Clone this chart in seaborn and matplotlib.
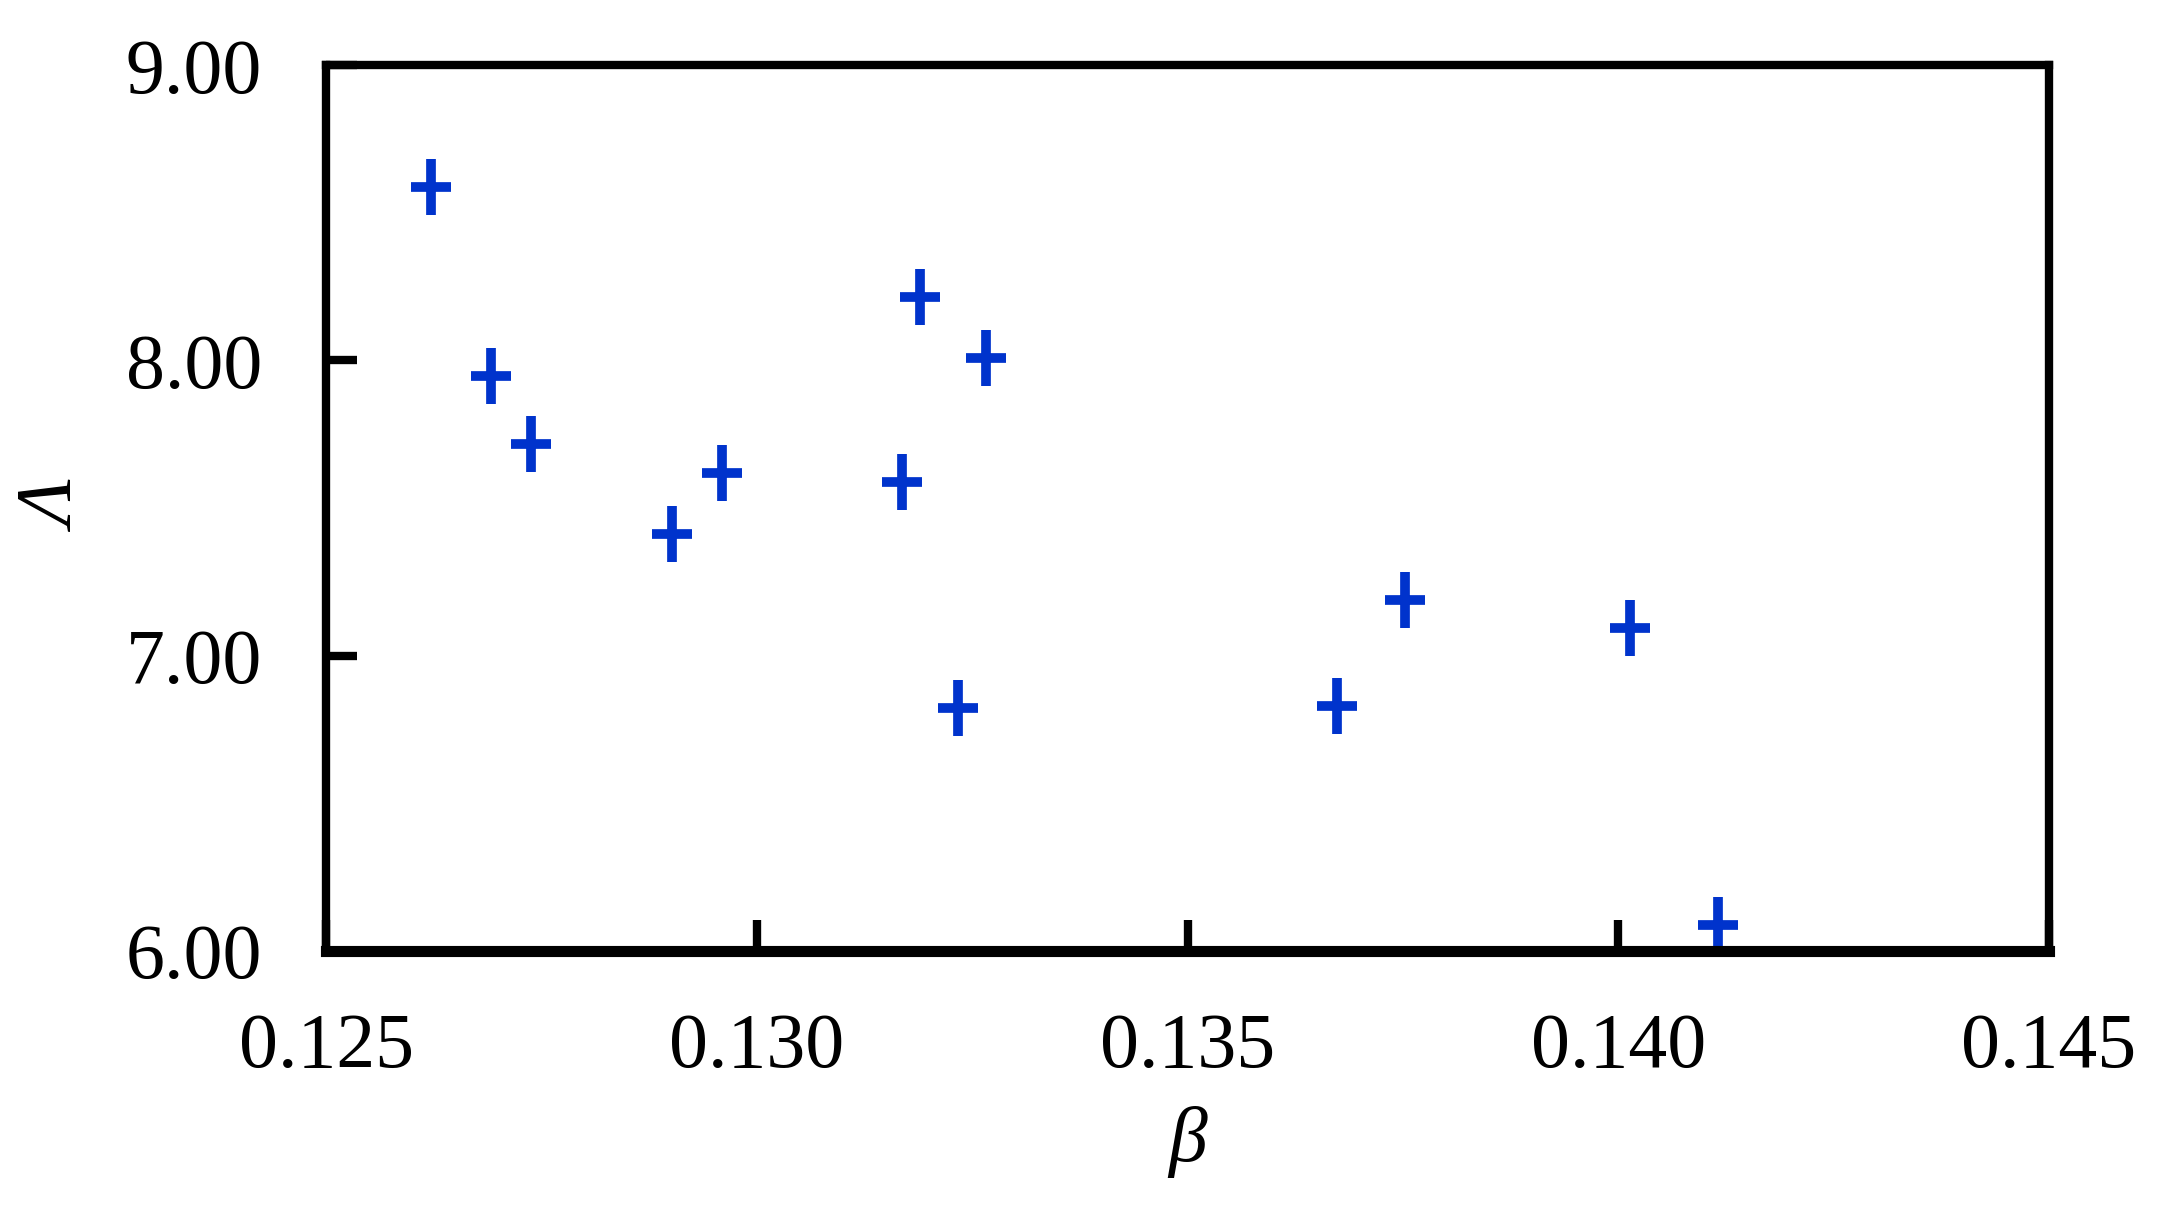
import numpy as np
import pandas as pd
import matplotlib
matplotlib.use("Agg")
import matplotlib.pyplot as plt
from matplotlib.path import Path
import seaborn as sns

# values
beta = [0.12622, 0.12691, 0.12738, 0.12901, 0.12959, 0.13169, 0.13189,
        0.13266, 0.13234, 0.13673, 0.13752, 0.14014, 0.14116]
lam = [8.587, 7.948, 7.718, 7.413, 7.620, 7.587, 8.216,
       8.009, 6.822, 6.831, 7.188, 7.094, 6.089]
x_ticks = [0.125, 0.130, 0.135, 0.140, 0.145]
x_labels = ["0.125", "0.130", "0.135", "0.140", "0.145"]
y_ticks = [6, 7, 8, 9]
y_labels = ["6.00", "7.00", "8.00", "9.00"]

df = pd.DataFrame({"beta": beta, "lam": lam})

sns.set_theme(style="white")
plt.rcParams['font.family'] = ['Liberation Serif', 'DejaVu Serif']

# slightly tall plus sign
plus = Path([(-0.72, 0), (0.72, 0), (0, -1), (0, 1)],
            [Path.MOVETO, Path.LINETO, Path.MOVETO, Path.LINETO])

fig = plt.figure(figsize=(21.74, 12.31), dpi=100)
ax = fig.add_axes([0.150, 0.2275, 0.7925, 0.7195])

sns.scatterplot(data=df, x="beta", y="lam", marker=plus, s=40**2,
                color="#0033CC", edgecolor="#0033CC", linewidth=7, ax=ax)

ax.set_xlim(0.125, 0.145)
ax.set_ylim(6, 9)
ax.set_xticks(x_ticks)
ax.set_xticklabels(x_labels)
ax.set_yticks(y_ticks)
ax.set_yticklabels(y_labels)

ax.tick_params(axis="both", direction="in", length=22, width=6,
               labelsize=56, color="black", labelcolor="black",
               bottom=True, left=True, top=False, right=False)
ax.tick_params(axis="x", pad=44)
ax.tick_params(axis="y", pad=46)

for side in ["left", "right", "top"]:
    ax.spines[side].set_linewidth(6)
    ax.spines[side].set_color("black")
ax.spines["bottom"].set_linewidth(8)
ax.spines["bottom"].set_color("black")

ax.set_xlabel("β", fontsize=56, fontstyle="italic", color="black", labelpad=16)
ax.set_ylabel("Λ", fontsize=56, fontstyle="italic", color="black")
ax.yaxis.set_label_coords(-0.135, 0.5)

fig.savefig("out.png", dpi=100, facecolor="white")
